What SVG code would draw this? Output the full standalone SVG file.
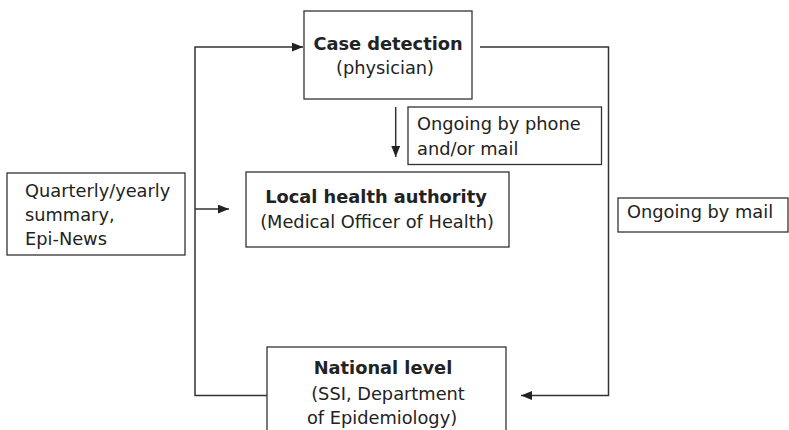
<svg xmlns="http://www.w3.org/2000/svg" width="789" height="430" viewBox="0 0 789 430">
<style>
.box{fill:#fff;stroke:#333;stroke-width:1.3}
.ln{fill:none;stroke:#333;stroke-width:1.5}
text{font-family:"DejaVu Sans","Open Sans",sans-serif;font-size:17.8px;fill:#222}
.b{font-weight:bold}
.c{text-anchor:middle}
</style>
<defs>
<marker id="ah" viewBox="0 0 10 8" refX="10" refY="4" markerWidth="11" markerHeight="9" markerUnits="userSpaceOnUse" orient="auto">
<path d="M0,0 L10,4 L0,8 Z" fill="#222"/>
</marker>
</defs>
<g id="connectors">
<polyline class="ln" points="267,395.5 195,395.5 195,47 303,47" marker-end="url(#ah)"/>
<polyline class="ln" points="480,47 608.5,47 608.5,395.5 521,395.5" marker-end="url(#ah)"/>
<line class="ln" x1="395.7" y1="107" x2="395.7" y2="157" marker-end="url(#ah)"/>
<line class="ln" x1="195" y1="209" x2="229" y2="209" marker-end="url(#ah)"/>
</g>
<g id="case-detection">
<rect class="box" x="304" y="11" width="168" height="88"/>
<text class="b c" x="388" y="50">Case detection</text>
<text class="c" x="385" y="74">(physician)</text>
</g>
<g id="phone-label">
<rect class="box" x="408" y="107" width="193.5" height="57.5"/>
<text x="417" y="130">Ongoing by phone</text>
<text x="417" y="155">and/or mail</text>
</g>
<g id="local-health">
<rect class="box" x="246" y="172" width="263" height="75"/>
<text class="b c" x="376" y="203">Local health authority</text>
<text class="c" x="377" y="228">(Medical Officer of Health)</text>
</g>
<g id="quarterly-label">
<rect class="box" x="7" y="173" width="178" height="82"/>
<text x="25" y="197">Quarterly/yearly</text>
<text x="25" y="221">summary,</text>
<text x="25" y="245">Epi-News</text>
</g>
<g id="mail-label">
<rect class="box" x="618" y="198" width="170" height="34"/>
<text x="627" y="218">Ongoing by mail</text>
</g>
<g id="national-level">
<rect class="box" x="267" y="347" width="239" height="90"/>
<text class="b c" x="383" y="374">National level</text>
<text class="c" x="388" y="400">(SSI, Department</text>
<text class="c" x="382" y="424">of Epidemiology)</text>
</g>
</svg>
